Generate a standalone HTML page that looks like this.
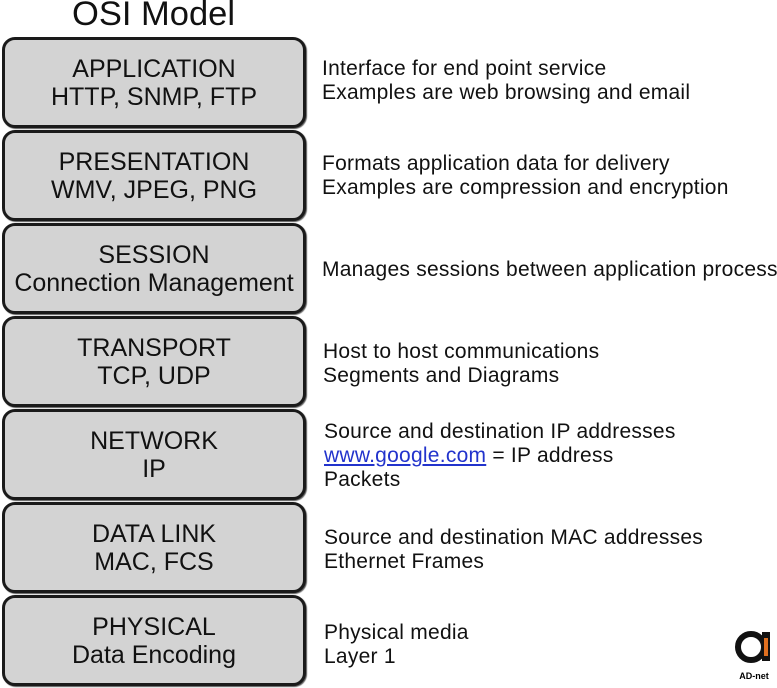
<!DOCTYPE html>
<html><head><meta charset="utf-8"><style>
body{margin:0;width:777px;height:688px;background:#fff;position:relative;overflow:hidden;font-family:"Liberation Sans",Arial,sans-serif;color:#111}
.t{position:absolute;left:72px;top:-5px;font-size:34.5px}
.b{position:absolute;left:2px;width:298px;height:85px;border:3px solid #1a1a1a;border-radius:13px;background:#d3d3d3;display:flex;flex-direction:column;justify-content:center;align-items:center;font-size:25px;line-height:28px;box-shadow:1px 1px 1px #555}
.r{position:absolute;font-size:21px;letter-spacing:0.25px;line-height:24px;white-space:nowrap}
a{color:#2233cc;text-decoration:underline}
</style></head><body>
<div class="t">OSI Model</div>
<div class="b" style="top:37px"><div>APPLICATION</div><div>HTTP, SNMP, FTP</div></div>
<div class="b" style="top:130px"><div>PRESENTATION</div><div>WMV, JPEG, PNG</div></div>
<div class="b" style="top:223px"><div>SESSION</div><div>Connection Management</div></div>
<div class="b" style="top:316px"><div>TRANSPORT</div><div>TCP, UDP</div></div>
<div class="b" style="top:409px"><div>NETWORK</div><div>IP</div></div>
<div class="b" style="top:502px"><div>DATA LINK</div><div>MAC, FCS</div></div>
<div class="b" style="top:595px"><div>PHYSICAL</div><div>Data Encoding</div></div>
<div class="r" style="left:322px;top:57px">Interface for end point service<br>Examples are web browsing and email</div>
<div class="r" style="left:322px;top:152px">Formats application data for delivery<br>Examples are compression and encryption</div>
<div class="r" style="left:322px;top:258px">Manages sessions between application process</div>
<div class="r" style="left:323px;top:340px">Host to host communications<br>Segments and Diagrams</div>
<div class="r" style="left:324px;top:420px">Source and destination IP addresses<br><a>www.google.com</a> = IP address<br>Packets</div>
<div class="r" style="left:324px;top:526px">Source and destination MAC addresses<br>Ethernet Frames</div>
<div class="r" style="left:324px;top:621px">Physical media<br>Layer 1</div>
<svg style="position:absolute;left:734px;top:630px" width="43" height="55">
<circle cx="17" cy="17" r="13" fill="none" stroke="#111" stroke-width="6"/>
<rect x="28" y="2" width="8" height="29" fill="#111"/>
<rect x="30" y="8" width="4" height="18" fill="#e07020"/>
<text x="20" y="49" font-size="9" font-weight="bold" text-anchor="middle" font-family="Liberation Sans,sans-serif">AD-net</text>
</svg>
</body></html>
